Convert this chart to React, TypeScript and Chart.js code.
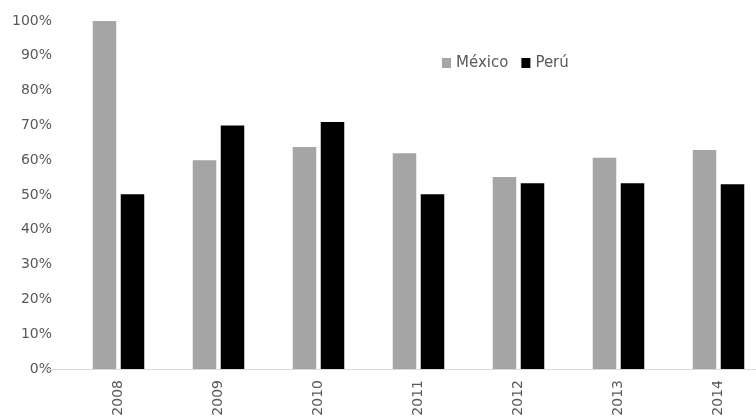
import React, { useEffect, useRef } from "react";
import { Chart, registerables } from "chart.js";

Chart.register(...registerables);

const years = ["2008", "2009", "2010", "2011", "2012", "2013", "2014"];
const seriesNames = ["México", "Perú"];
const mexico = [100, 60, 63.8, 62, 55.2, 60.7, 62.9];
const peru = [50.2, 70, 71, 50.2, 53.4, 53.4, 53.1];
const yTicks = [0, 10, 20, 30, 40, 50, 60, 70, 80, 90, 100];

const GRAY = "#a5a5a5";
const BLACK = "#000000";
const TEXT = "#595959";
const FAMILY = "DejaVu Sans";
const FONT = `'${FAMILY}', sans-serif`;

const legendPlugin = {
  id: "customLegend",
  afterDraw(chart: any) {
    const { ctx, chartArea } = chart;
    ctx.save();
    ctx.font = `15px ${FONT}`;
    ctx.textBaseline = "middle";
    ctx.textAlign = "left";
    let x = chartArea.left + 373.5;
    const y = 63;
    chart.data.datasets.forEach((ds: any) => {
      ctx.fillStyle = ds.backgroundColor;
      ctx.fillRect(x, y - 5, 9, 10);
      x += 14;
      ctx.fillStyle = TEXT;
      ctx.fillText(ds.label, x, y);
      x += ctx.measureText(ds.label).width + 13;
    });
    ctx.restore();
  },
};

const baselinePlugin = {
  id: "baseline",
  beforeDatasetsDraw(chart: any) {
    const { ctx, chartArea } = chart;
    ctx.save();
    ctx.strokeStyle = "#d9d9d9";
    ctx.lineWidth = 1;
    ctx.beginPath();
    ctx.moveTo(chartArea.left - 21.5, Math.round(chartArea.bottom) + 0.5);
    ctx.lineTo(chart.width, Math.round(chartArea.bottom) + 0.5);
    ctx.stroke();
    ctx.restore();
  },
};

export default function App() {
  const ref = useRef<HTMLCanvasElement>(null);
  useEffect(() => {
    if (!ref.current) return;
    let chart: any = null;
    let cancelled = false;
    const build = () => {
      if (cancelled || !ref.current) return;
      chart = new Chart(ref.current, {
        type: "bar",
        data: {
          labels: years,
          datasets: [
            { label: seriesNames[0], data: mexico, backgroundColor: GRAY, categoryPercentage: 0.56, barPercentage: 0.84 },
            { label: seriesNames[1], data: peru, backgroundColor: BLACK, categoryPercentage: 0.56, barPercentage: 0.84 },
          ],
        },
        options: {
          animation: false,
          responsive: true,
          maintainAspectRatio: false,
          layout: { padding: { top: 21, right: 1.5, left: 0, bottom: 0 } },
          plugins: { legend: { display: false }, tooltip: { enabled: false } },
          scales: {
            x: {
              grid: { display: false, drawTicks: false },
              border: { display: false },
              ticks: {
                color: TEXT,
                font: { family: FONT, size: 14 },
                minRotation: 90,
                maxRotation: 90,
                autoSkip: false,
                padding: 11,
              },
              afterFit(scale: any) {
                scale.height = 47;
                scale.paddingLeft = 0;
                scale.paddingRight = 0;
              },
            },
            y: {
              min: 0,
              max: 100,
              grid: { display: false, drawTicks: false },
              border: { display: false },
              afterBuildTicks(scale: any) {
                scale.ticks = yTicks.map((v) => ({ value: v }));
              },
              ticks: {
                color: TEXT,
                font: { family: FONT, size: 14 },
                padding: 16.5,
                callback: (v: any) => `${v}%`,
              },
              afterFit(scale: any) {
                scale.width = 68.5;
                scale.paddingTop = 0;
                scale.paddingBottom = 0;
              },
            },
          },
        },
        plugins: [baselinePlugin, legendPlugin],
      });
    };
    Promise.all([
      document.fonts.load(`14px '${FAMILY}'`, "0123456789%"),
      document.fonts.load(`15px '${FAMILY}'`, "MéxicoPerú"),
    ])
      .catch(() => null)
      .then(build);
    return () => {
      cancelled = true;
      if (chart) chart.destroy();
    };
  }, []);

  return (
    <div style={{ position: "fixed", left: 0, top: 0, width: 756, height: 416, overflow: "hidden", background: "#fff" }}>
      <div style={{ position: "relative", width: 770, height: 416 }}>
        <canvas ref={ref} />
      </div>
    </div>
  );
}
